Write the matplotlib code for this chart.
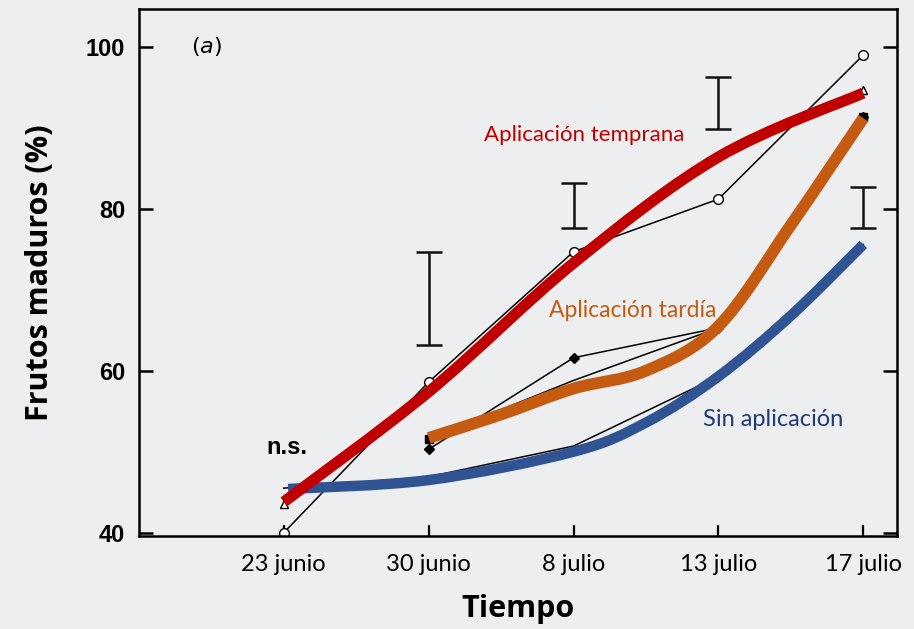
import matplotlib.pyplot as plt
import numpy as np
from matplotlib.path import Path
from matplotlib.patches import PathPatch

fechas = ["23 junio", "30 junio", "8 julio", "13 julio", "17 julio"]
x = [0, 1, 2, 3, 4]

# series originales (lineas finas)
circulos = [40.0, 58.6, 74.7, 81.2, 99.0]
triangulos = [43.5, 57.2, 73.3, 86.4, 94.7]
rombos_x = [1, 2, 3, 4]
rombos = [50.3, 61.6, 65.3, 91.3]
cuadrados_x = [1, 2, 3, 4]
cuadrados = [51.6, 58.8, 65.3, 91.3]
control = [45.5, 46.9, 50.7, 59.3, 75.6]

# barras de error (minimo, maximo)
barras_x = [1, 2, 3, 4]
barras_min = [63.2, 77.6, 89.9, 77.6]
barras_max = [74.7, 83.2, 96.3, 82.7]

# curvas suavizadas
temprana_x = [0, 1, 2, 3, 4]
temprana = [43.8, 57.4, 73.3, 86.4, 94.3]
tardia_x = [1, 1.5, 2, 2.5, 3, 3.5, 4]
tardia = [51.7, 54.6, 57.8, 60.0, 65.5, 78.0, 91.2]
sin_x = [0.03, 1, 2, 2.5, 3, 3.5, 4]
sin_apl = [45.4, 46.5, 50.0, 53.6, 59.3, 66.8, 75.6]


def curva(xs, ys):
    # Catmull-Rom convertida a segmentos Bezier cubicos
    p = np.column_stack([xs, ys]).astype(float)
    q = np.vstack([p[0], p, p[-1]])
    verts = [p[0]]
    codes = [Path.MOVETO]
    for i in range(len(p) - 1):
        a, b, c, d = q[i], q[i + 1], q[i + 2], q[i + 3]
        verts += [b + (c - a) / 6, c - (d - b) / 6, c]
        codes += [Path.CURVE4] * 3
    return Path(verts, codes)


fig = plt.figure(figsize=(9.14, 6.29), dpi=100)
fig.patch.set_facecolor("#eceeef")
ax = fig.add_axes([0.152, 0.148, 0.829, 0.838])
ax.set_facecolor("none")

ax.plot(x, circulos, color="black", lw=1.1, marker="o", ms=7,
        mfc="white", mec="black", mew=1.0, zorder=2)
ax.plot(x, triangulos, color="black", lw=1.1, marker="^", ms=6,
        mfc="white", mec="black", mew=1.0, markevery=[0, 4], zorder=2)
ax.plot(rombos_x, rombos, color="black", lw=1.1, marker="D", ms=5,
        mfc="black", mec="black", zorder=2)
ax.plot(cuadrados_x, cuadrados, color="black", lw=1.1, marker="s", ms=6,
        mfc="black", mec="black", markevery=[0, 3], zorder=2)
ax.plot(x, control, color="black", lw=1.1, zorder=2)

centro = (np.array(barras_min) + np.array(barras_max)) / 2
mitad = (np.array(barras_max) - np.array(barras_min)) / 2
ax.errorbar(barras_x, centro, yerr=mitad, fmt="none", ecolor="#111111",
            elinewidth=1.8, capsize=9.5, capthick=1.8, zorder=2)

for xs, ys, col, lw in [(sin_x, sin_apl, "#2f5393", 7.5),
                        (tardia_x, tardia, "#c55a11", 8.5),
                        (temprana_x, temprana, "#c00000", 8.0)]:
    ax.add_patch(PathPatch(curva(xs, ys), fill=False, edgecolor=col,
                           lw=lw, capstyle="butt", zorder=3))

ax.text(2.07, 89.1, "Aplicación temprana", color="#c00000", fontsize=16,
        family="Lato", ha="center", va="center")
ax.text(2.41, 67.5, "Aplicación tardía", color="#c55a11", fontsize=16.5,
        family="Lato", ha="center", va="center")
ax.text(3.38, 54.0, "Sin aplicación", color="#1f3a78", fontsize=17,
        family="Lato", ha="center", va="center")
ax.text(0.02, 50.5, "n.s.", fontsize=17, fontweight="bold",
        family="Liberation Sans", ha="center", va="center")
ax.text(-0.53, 100.0, "($a$)", fontsize=16, ha="center", va="center")

ax.set_xlim(-1.0, 4.23)
ax.set_ylim(39.6, 104.7)
ax.set_xticks(x)
ax.set_xticklabels(fechas, fontsize=17, family="Lato")
ax.set_yticks([40, 60, 80, 100])
ax.set_yticklabels(["40", "60", "80", "100"], fontsize=17,
                   fontweight="bold", family="Liberation Sans")
ax.tick_params(axis="x", direction="in", length=8, width=1.6, pad=13)
ax.tick_params(axis="y", direction="in", length=10, width=1.8, pad=10,
               right=True)
for s in ax.spines.values():
    s.set_linewidth(1.8)

ax.set_xlabel("Tiempo", fontsize=22, fontweight="bold", family="Open Sans",
              labelpad=14)
ax.set_ylabel("Frutos maduros (%)", fontsize=22, fontweight="bold",
              family="Open Sans", labelpad=22)

fig.savefig("out.png", dpi=100, facecolor=fig.get_facecolor())
